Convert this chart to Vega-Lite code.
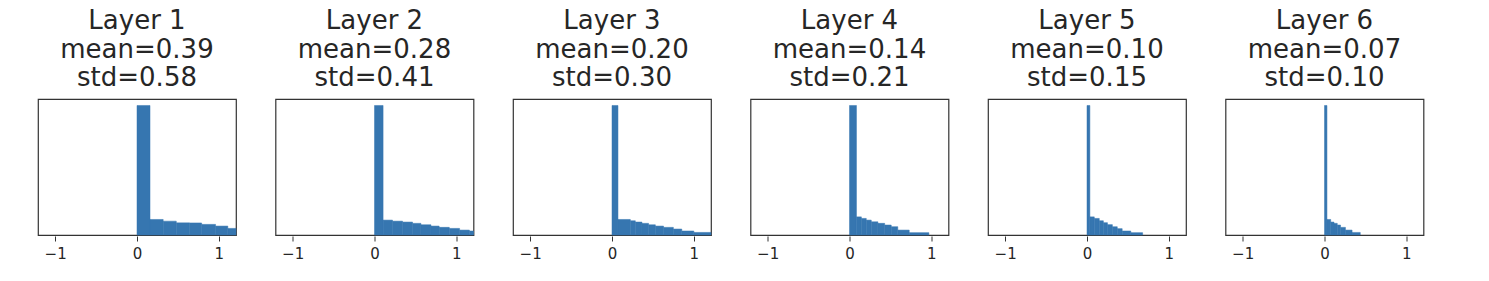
{
  "$schema": "https://vega.github.io/schema/vega-lite/v6.json",
  "padding": {"left": 37, "top": 8, "right": 5, "bottom": 5},
  "background": "white",
  "data": {"values": [
    {"panel": "Layer 1|mean=0.39|std=0.58", "x0": 0, "x1": 0.159, "h": 1.0},
    {"panel": "Layer 1|mean=0.39|std=0.58", "x0": 0.159, "x1": 0.32, "h": 0.12},
    {"panel": "Layer 1|mean=0.39|std=0.58", "x0": 0.32, "x1": 0.48, "h": 0.107},
    {"panel": "Layer 1|mean=0.39|std=0.58", "x0": 0.48, "x1": 0.64, "h": 0.094},
    {"panel": "Layer 1|mean=0.39|std=0.58", "x0": 0.64, "x1": 0.79, "h": 0.093},
    {"panel": "Layer 1|mean=0.39|std=0.58", "x0": 0.79, "x1": 0.96, "h": 0.082},
    {"panel": "Layer 1|mean=0.39|std=0.58", "x0": 0.96, "x1": 1.11, "h": 0.069},
    {"panel": "Layer 1|mean=0.39|std=0.58", "x0": 1.11, "x1": 1.21, "h": 0.051},

    {"panel": "Layer 2|mean=0.28|std=0.41", "x0": 0, "x1": 0.105, "h": 1.0},
    {"panel": "Layer 2|mean=0.28|std=0.41", "x0": 0.105, "x1": 0.22, "h": 0.115},
    {"panel": "Layer 2|mean=0.28|std=0.41", "x0": 0.22, "x1": 0.343, "h": 0.107},
    {"panel": "Layer 2|mean=0.28|std=0.41", "x0": 0.343, "x1": 0.465, "h": 0.1},
    {"panel": "Layer 2|mean=0.28|std=0.41", "x0": 0.465, "x1": 0.567, "h": 0.09},
    {"panel": "Layer 2|mean=0.28|std=0.41", "x0": 0.567, "x1": 0.69, "h": 0.079},
    {"panel": "Layer 2|mean=0.28|std=0.41", "x0": 0.69, "x1": 0.79, "h": 0.069},
    {"panel": "Layer 2|mean=0.28|std=0.41", "x0": 0.79, "x1": 0.914, "h": 0.059},
    {"panel": "Layer 2|mean=0.28|std=0.41", "x0": 0.914, "x1": 1.04, "h": 0.051},
    {"panel": "Layer 2|mean=0.28|std=0.41", "x0": 1.04, "x1": 1.16, "h": 0.038},
    {"panel": "Layer 2|mean=0.28|std=0.41", "x0": 1.16, "x1": 1.21, "h": 0.031},

    {"panel": "Layer 3|mean=0.20|std=0.30", "x0": 0, "x1": 0.073, "h": 1.0},
    {"panel": "Layer 3|mean=0.20|std=0.30", "x0": 0.073, "x1": 0.224, "h": 0.12},
    {"panel": "Layer 3|mean=0.20|std=0.30", "x0": 0.224, "x1": 0.285, "h": 0.11},
    {"panel": "Layer 3|mean=0.20|std=0.30", "x0": 0.285, "x1": 0.366, "h": 0.1},
    {"panel": "Layer 3|mean=0.20|std=0.30", "x0": 0.366, "x1": 0.447, "h": 0.09},
    {"panel": "Layer 3|mean=0.20|std=0.30", "x0": 0.447, "x1": 0.53, "h": 0.079},
    {"panel": "Layer 3|mean=0.20|std=0.30", "x0": 0.53, "x1": 0.63, "h": 0.069},
    {"panel": "Layer 3|mean=0.20|std=0.30", "x0": 0.63, "x1": 0.75, "h": 0.059},
    {"panel": "Layer 3|mean=0.20|std=0.30", "x0": 0.75, "x1": 0.853, "h": 0.046},
    {"panel": "Layer 3|mean=0.20|std=0.30", "x0": 0.853, "x1": 1.0, "h": 0.031},
    {"panel": "Layer 3|mean=0.20|std=0.30", "x0": 1.0, "x1": 1.21, "h": 0.02},

    {"panel": "Layer 4|mean=0.14|std=0.21", "x0": 0, "x1": 0.085, "h": 1.0},
    {"panel": "Layer 4|mean=0.14|std=0.21", "x0": 0.085, "x1": 0.145, "h": 0.14},
    {"panel": "Layer 4|mean=0.14|std=0.21", "x0": 0.145, "x1": 0.205, "h": 0.128},
    {"panel": "Layer 4|mean=0.14|std=0.21", "x0": 0.205, "x1": 0.266, "h": 0.115},
    {"panel": "Layer 4|mean=0.14|std=0.21", "x0": 0.266, "x1": 0.347, "h": 0.102},
    {"panel": "Layer 4|mean=0.14|std=0.21", "x0": 0.347, "x1": 0.43, "h": 0.09},
    {"panel": "Layer 4|mean=0.14|std=0.21", "x0": 0.43, "x1": 0.51, "h": 0.077},
    {"panel": "Layer 4|mean=0.14|std=0.21", "x0": 0.51, "x1": 0.59, "h": 0.064},
    {"panel": "Layer 4|mean=0.14|std=0.21", "x0": 0.59, "x1": 0.73, "h": 0.038},
    {"panel": "Layer 4|mean=0.14|std=0.21", "x0": 0.73, "x1": 0.97, "h": 0.018},

    {"panel": "Layer 5|mean=0.10|std=0.15", "x0": 0, "x1": 0.035, "h": 1.0},
    {"panel": "Layer 5|mean=0.10|std=0.15", "x0": 0.035, "x1": 0.089, "h": 0.14},
    {"panel": "Layer 5|mean=0.10|std=0.15", "x0": 0.089, "x1": 0.15, "h": 0.128},
    {"panel": "Layer 5|mean=0.10|std=0.15", "x0": 0.15, "x1": 0.2, "h": 0.11},
    {"panel": "Layer 5|mean=0.10|std=0.15", "x0": 0.2, "x1": 0.25, "h": 0.095},
    {"panel": "Layer 5|mean=0.10|std=0.15", "x0": 0.25, "x1": 0.31, "h": 0.08},
    {"panel": "Layer 5|mean=0.10|std=0.15", "x0": 0.31, "x1": 0.37, "h": 0.064},
    {"panel": "Layer 5|mean=0.10|std=0.15", "x0": 0.37, "x1": 0.43, "h": 0.049},
    {"panel": "Layer 5|mean=0.10|std=0.15", "x0": 0.43, "x1": 0.535, "h": 0.031},
    {"panel": "Layer 5|mean=0.10|std=0.15", "x0": 0.535, "x1": 0.68, "h": 0.018},

    {"panel": "Layer 6|mean=0.07|std=0.10", "x0": 0, "x1": 0.03, "h": 1.0},
    {"panel": "Layer 6|mean=0.07|std=0.10", "x0": 0.03, "x1": 0.076, "h": 0.12},
    {"panel": "Layer 6|mean=0.07|std=0.10", "x0": 0.076, "x1": 0.116, "h": 0.1},
    {"panel": "Layer 6|mean=0.07|std=0.10", "x0": 0.116, "x1": 0.156, "h": 0.09},
    {"panel": "Layer 6|mean=0.07|std=0.10", "x0": 0.156, "x1": 0.196, "h": 0.077},
    {"panel": "Layer 6|mean=0.07|std=0.10", "x0": 0.196, "x1": 0.256, "h": 0.059},
    {"panel": "Layer 6|mean=0.07|std=0.10", "x0": 0.256, "x1": 0.337, "h": 0.038},
    {"panel": "Layer 6|mean=0.07|std=0.10", "x0": 0.337, "x1": 0.437, "h": 0.02}
  ]},
  "facet": {
    "column": {
      "field": "panel",
      "type": "nominal",
      "title": null,
      "header": {
        "labelExpr": "split(datum.value, '|')",
        "labelFont": "DejaVu Sans",
        "labelFontSize": 26,
        "labelLineHeight": 28.5,
        "labelColor": "#262626",
        "labelPadding": 7
      }
    }
  },
  "spacing": {"column": 37.5},
  "spec": {
    "width": 198,
    "height": 136,
    "mark": {"type": "rect", "color": "#3676b0", "stroke": "#3676b0", "strokeWidth": 0.5},
    "encoding": {
      "x": {
        "field": "x0",
        "type": "quantitative",
        "scale": {"domain": [-1.21, 1.21], "nice": false, "zero": false},
        "axis": {
          "title": null,
          "values": [-1, 0, 1],
          "format": "d",
          "grid": false,
          "domain": false,
          "ticks": true,
          "tickSize": 5,
          "tickColor": "#333333",
          "labelFont": "DejaVu Sans",
          "labelFontSize": 15,
          "labelColor": "#262626",
          "labelPadding": 5
        }
      },
      "x2": {"field": "x1"},
      "y": {
        "field": "h",
        "type": "quantitative",
        "scale": {"domain": [0, 1.05], "nice": false},
        "axis": null
      },
      "y2": {"datum": 0}
    }
  },
  "config": {
    "view": {"stroke": "#333333", "strokeWidth": 1.2}
  }
}
